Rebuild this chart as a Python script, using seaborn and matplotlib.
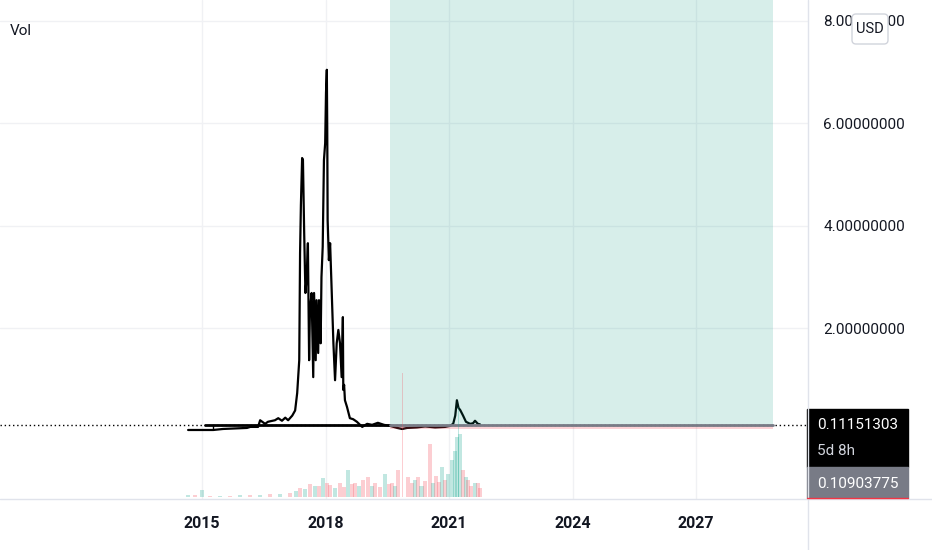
import matplotlib
matplotlib.use("Agg")
import matplotlib.pyplot as plt
import seaborn as sns
import pandas as pd
from matplotlib.patches import Rectangle, FancyBboxPatch
from matplotlib.lines import Line2D
from matplotlib.transforms import IdentityTransform

# Price (USD), time in fractional years
price_years = [
    2014.66, 2014.95, 2015.27, 2015.51, 2015.80, 2016.09, 2016.17, 2016.36,
    2016.41, 2016.53, 2016.60, 2016.77, 2016.85, 2016.94, 2017.02, 2017.09,
    2017.19, 2017.26, 2017.31, 2017.36, 2017.38, 2017.40, 2017.43, 2017.45,
    2017.48, 2017.51, 2017.54, 2017.57, 2017.60, 2017.62, 2017.66, 2017.70,
    2017.72, 2017.76, 2017.78, 2017.82, 2017.84, 2017.88, 2017.90, 2017.93,
    2017.96, 2017.99, 2018.01, 2018.03, 2018.04, 2018.05, 2018.08, 2018.11,
    2018.15, 2018.19, 2018.23, 2018.27, 2018.31, 2018.35, 2018.39, 2018.42,
    2018.43, 2018.45, 2018.47, 2018.52, 2018.59, 2018.67, 2018.76, 2018.89,
    2019.01, 2019.13, 2019.27, 2019.42, 2019.57, 2019.74, 2019.86, 2019.98,
    2020.22, 2020.42, 2020.66, 2020.90, 2021.02, 2021.10, 2021.15, 2021.19,
    2021.23, 2021.27, 2021.34, 2021.41, 2021.51, 2021.58, 2021.63, 2021.70,
    2021.75,
]
price_values = [
    0.02, 0.02, 0.02, 0.04, 0.05, 0.06, 0.08, 0.08,
    0.21, 0.14, 0.18, 0.21, 0.25, 0.20, 0.26, 0.21,
    0.30, 0.40, 0.74, 1.38, 3.47, 4.40, 5.32, 5.28,
    3.86, 2.69, 3.00, 3.66, 1.38, 2.36, 2.69, 1.05,
    2.69, 1.38, 2.55, 1.52, 2.55, 1.71, 3.00, 3.59,
    5.28, 5.61, 6.59, 7.04, 5.93, 4.11, 3.33, 3.66,
    2.69, 1.71, 0.99, 1.71, 1.97, 1.71, 1.05, 2.22,
    0.80, 0.90, 0.60, 0.47, 0.25, 0.23, 0.18, 0.08,
    0.14, 0.12, 0.16, 0.12, 0.10, 0.06, 0.04, 0.06,
    0.07, 0.09, 0.07, 0.08, 0.10, 0.14, 0.30, 0.60,
    0.45, 0.41, 0.30, 0.18, 0.14, 0.15, 0.20, 0.14,
    0.13,
]

# Volume (arbitrary units) and candle direction
vol_years = [
    2014.66, 2014.83, 2015.00, 2015.19, 2015.44, 2015.68, 2015.92, 2016.17,
    2016.41, 2016.65, 2016.89, 2017.14, 2017.28, 2017.38, 2017.50, 2017.62,
    2017.74, 2017.84, 2017.94, 2018.04, 2018.11, 2018.23, 2018.35, 2018.45,
    2018.55, 2018.64, 2018.72, 2018.81, 2018.91, 2019.03, 2019.13, 2019.20,
    2019.32, 2019.44, 2019.54, 2019.62, 2019.69, 2019.76, 2019.88, 2020.00,
    2020.10, 2020.17, 2020.25, 2020.33, 2020.42, 2020.54, 2020.61, 2020.68,
    2020.76, 2020.83, 2020.90, 2020.98, 2021.07, 2021.15, 2021.19, 2021.22,
    2021.27, 2021.34, 2021.41, 2021.46, 2021.53, 2021.63, 2021.70, 2021.75,
]
vol_values = [
    0.3, 0.3, 1.2, 0.2, 0.2, 0.2, 0.3, 0.4,
    0.4, 0.5, 0.5, 0.7, 1.0, 1.6, 1.4, 2.3,
    1.9, 2.0, 3.3, 2.4, 2.1, 1.6, 2.5, 1.8,
    4.7, 2.2, 2.5, 1.9, 3.0, 3.5, 2.0, 2.5,
    1.8, 4.0, 2.2, 2.5, 2.0, 4.7, 21.8, 3.5,
    2.4, 3.0, 3.5, 2.0, 2.8, 9.3, 2.5, 3.7,
    2.6, 5.3, 3.0, 4.0, 6.5, 8.0, 10.5, 15.8,
    11.0, 4.7, 3.5, 3.0, 2.0, 2.5, 2.5, 1.5,
]
vol_up = [
    1, 0, 1, 0, 1, 0, 1, 0,
    1, 0, 1, 0, 1, 0, 1, 0,
    1, 0, 1, 0, 0, 1, 0, 0,
    1, 0, 0, 1, 0, 0, 1, 0,
    0, 1, 0, 0, 1, 0, 0, 0,
    0, 1, 0, 1, 0, 0, 1, 0,
    0, 1, 0, 1, 1, 1, 1, 1,
    1, 0, 1, 0, 0, 1, 0, 0,
]

year_ticks = [2015, 2018, 2021, 2024, 2027]
price_ticks = [2, 4, 6, 8]

# long position drawing
entry_price = 0.1115
stop_price = 0.035
ray_start = 2015.07
pos_start = 2019.57
pos_end = 2028.87

last_price = "0.11151303"
countdown = "5d 8h"
prev_close = "0.10903775"

W, H = 932, 550
sns.set_theme(style="white")
plt.rcParams["font.family"] = ["Roboto", "DejaVu Sans"]

fig = plt.figure(figsize=(W / 100, H / 100), dpi=100)
ax = fig.add_axes([0, 51 / H, 808 / W, 499 / H])

# volume pane shares the time axis
ax2 = ax.twinx()
ax2.set_ylim(-0.35, 87.2)
ax2.axis("off")
vol_colors = ["#22ab94" if u else "#f7525f" for u in vol_up]
# very tall single-day spikes are drawn as thin lines
vol_widths = [0.025 if v > 12 else 0.1 for v in vol_values]
ax2.bar(vol_years, vol_values, width=vol_widths, color=vol_colors, alpha=0.28, lw=0)

prices = pd.DataFrame({"year": price_years, "price": price_values})
sns.lineplot(data=prices, x="year", y="price", ax=ax, color="black",
             lw=1.6, estimator=None, sort=False, zorder=2)

ax.set_xlim(2010.09, 2029.72)
ax.set_ylim(-1.325, 8.40)
ax.set_xticks(year_ticks)
ax.set_xticklabels([str(y) for y in year_ticks], fontweight="semibold")
ax.set_yticks(price_ticks)
ax.set_yticklabels(["%.8f" % v for v in price_ticks])
ax.yaxis.tick_right()
ax.yaxis.set_label_position("right")
ax.tick_params(axis="x", length=0, pad=12, labelsize=11.5, colors="#131722")
ax.tick_params(axis="y", length=0, pad=11, labelsize=11, colors="#131722")
ax.set_xlabel("")
ax.set_ylabel("")
ax.grid(True, color="#f0f1f4", lw=1)
for s in ax.spines.values():
    s.set_visible(False)

# current price dotted line and drawings
ax.axhline(entry_price, color="black", ls=(0, (1, 2)), lw=1, zorder=1)
ax.plot([ray_start, pos_start], [entry_price, entry_price], color="black", lw=2, zorder=4)
ax.vlines(2015.27, 0.02, entry_price, color="black", lw=1, zorder=4)
ax.fill_between([pos_start, pos_end], entry_price, 8.40, color="#089981",
                alpha=0.16, lw=0, zorder=3)
ax.fill_between([pos_start, pos_end], stop_price, entry_price, color="#f23645",
                alpha=0.22, lw=0, zorder=3)
ax.plot([pos_start, pos_end], [entry_price, entry_price], color="#787b86", lw=2, zorder=4)

ax.text(0.012, 1 - 31 / 499, "Vol", transform=ax.transAxes, fontsize=11,
        color="#131722", va="center", ha="left")

# frame lines
fig.add_artist(Line2D([0, 1], [51 / H, 51 / H], color="#e0e3eb", lw=1))
fig.add_artist(Line2D([808 / W, 808 / W], [0, 1], color="#e0e3eb", lw=1))

# price labels on the scale
fig.add_artist(Rectangle((807 / W, (H - 467) / H), 101 / W, 58 / H,
                         color="black", transform=fig.transFigure))
fig.add_artist(Rectangle((807 / W, (H - 498) / H), 101 / W, 31 / H,
                         color="#787b86", transform=fig.transFigure))
fig.add_artist(Line2D([807 / W, 908 / W], [(H - 498) / H] * 2, color="#f23645", lw=1))
fig.text(817 / W, 1 - 425 / H, last_price, color="white", fontsize=11, va="center")
fig.text(817 / W, 1 - 451 / H, countdown, color="#d1d4dc", fontsize=11, va="center")
fig.text(817 / W, 1 - 484 / H, prev_close, color="white", fontsize=11, va="center")

# currency button
fig.add_artist(FancyBboxPatch((852, H - 44), 36, 30,
                              boxstyle="round,pad=0,rounding_size=4",
                              facecolor="white", edgecolor="#d1d4dc", lw=1,
                              transform=IdentityTransform()))
fig.text(870 / W, 1 - 29 / H, "USD", color="#131722", fontsize=10.5,
         ha="center", va="center")

fig.savefig("out.png", dpi=100)
